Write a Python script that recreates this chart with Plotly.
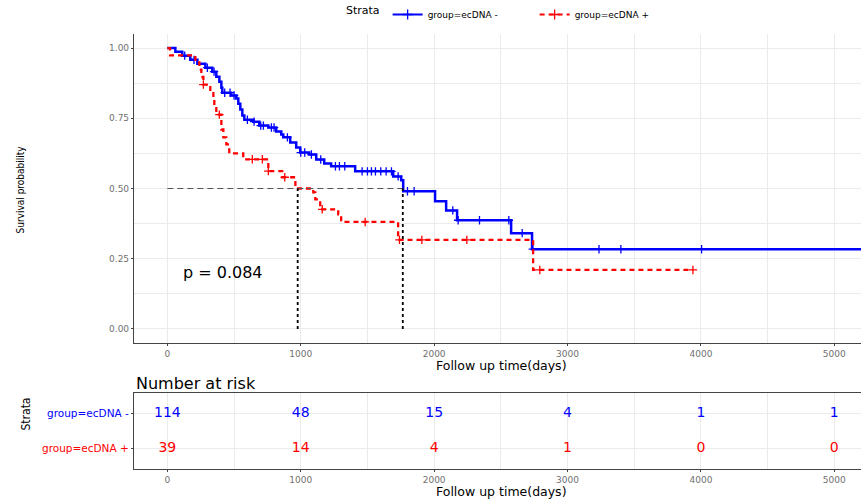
import plotly.graph_objects as go

# ---------------------------------------------------------------- data
# Kaplan-Meier steps: time of each drop (days) and survival after it
neg_time = [0, 60, 112, 172, 225, 285, 337, 367, 390, 405, 412, 479, 517, 532, 547,
            562, 577, 644, 689, 757, 816, 854, 869, 921, 966, 996, 1064, 1116, 1176,
            1228, 1408, 1693, 1753, 1768, 2007, 2090, 2172, 2577, 2734, 5300]
neg_surv = [1.0, 0.987, 0.973, 0.958, 0.944, 0.930, 0.916, 0.898, 0.880, 0.859, 0.841,
            0.831, 0.820, 0.802, 0.781, 0.760, 0.745, 0.738, 0.724, 0.717, 0.703, 0.692,
            0.682, 0.664, 0.646, 0.628, 0.621, 0.603, 0.589, 0.579, 0.561, 0.543, 0.529,
            0.490, 0.455, 0.422, 0.387, 0.341, 0.284, 0.284]
neg_censor = [130, 200, 300, 350, 430, 470, 500, 600, 650, 700, 720, 780, 800, 900,
              1000, 1030, 1080, 1150, 1260, 1290, 1330, 1460, 1500, 1530, 1560, 1600,
              1640, 1680, 1730, 1800, 1850, 2140, 2180, 2340, 2560, 2660, 2740, 3236,
              3400, 4005]

pos_time = [0, 20, 210, 240, 255, 270, 322, 345, 352, 367, 405, 420, 442, 464, 569,
            757, 861, 960, 1094, 1109, 1146, 1281, 1303, 1730, 2742, 3940]
pos_surv = [1.0, 0.974, 0.949, 0.923, 0.897, 0.870, 0.846, 0.817, 0.790, 0.763, 0.710,
            0.682, 0.657, 0.625, 0.604, 0.562, 0.540, 0.500, 0.486, 0.461, 0.426, 0.408,
            0.381, 0.317, 0.210, 0.210]
pos_censor = [270, 390, 637, 712, 757, 880, 1161, 1483, 1740, 1908, 2245, 2792, 3940]

median_times = [977, 1765]
p_label = "p = 0.084"

strata = ["group=ecDNA -", "group=ecDNA +"]
colors = ["#0000FF", "#FF0000"]
risk_times = [0, 1000, 2000, 3000, 4000, 5000]
risk_neg = [114, 48, 15, 4, 1, 1]
risk_pos = [39, 14, 4, 1, 0, 0]


def surv_at(times, surv, t):
    s = surv[0]
    for ti, si in zip(times, surv):
        if ti <= t:
            s = si
    return s


W, H = 861, 499
xdom = [134 / W, 1]
main_dom = [1 - 343 / H, 1 - 34 / H]
risk_dom = [1 - 469 / H, 1 - 393 / H]
xrange_ = [-250, 5200]
FONT = "DejaVu Sans, Verdana, sans-serif"
NARROW = "DejaVu Sans Condensed, Liberation Sans Narrow, sans-serif"

fig = go.Figure()

curves = [(neg_time, neg_surv, neg_censor, "solid", 2.5),
          (pos_time, pos_surv, pos_censor, "5px,4px", 2.3)]
for (tt, ss, cc, dash, w), name, col in zip(curves, strata, colors):
    fig.add_trace(go.Scatter(x=tt, y=ss, mode="lines", line_shape="hv",
                             line=dict(color=col, width=w, dash=dash),
                             showlegend=False, hoverinfo="skip"))
    fig.add_trace(go.Scatter(x=cc, y=[surv_at(tt, ss, c) for c in cc], mode="markers",
                             marker=dict(symbol="cross-thin", size=6,
                                         line=dict(color=col, width=1.3)),
                             showlegend=False))
    fig.add_trace(go.Scatter(x=[None], y=[None], mode="lines+markers", name=name,
                             line=dict(color=col, width=2, dash=dash),
                             marker=dict(symbol="cross-thin", size=7,
                                         line=dict(color=col, width=1.3))))

# median lines
fig.add_shape(type="line", x0=0, x1=median_times[1], y0=0.5, y1=0.5,
              xref="x", yref="y", line=dict(color="#555555", width=1.2, dash="6px,4px"))
for m in median_times:
    fig.add_shape(type="line", x0=m, x1=m, y0=0, y1=0.5, xref="x", yref="y",
                  line=dict(color="black", width=1.8, dash="3px,3px"))

fig.add_annotation(x=100, y=0.2, xref="x", yref="y", text=p_label, showarrow=False,
                   xanchor="left", font=dict(size=16, color="black"))

# risk table
for vals, yv, col in [(risk_neg, 1, colors[0]), (risk_pos, 0, colors[1])]:
    fig.add_trace(go.Scatter(x=risk_times, y=[yv] * len(risk_times), mode="text",
                             text=[str(v) for v in vals],
                             textfont=dict(size=14, color=col),
                             xaxis="x2", yaxis="y2", showlegend=False))

grid = "#EBEBEB"
tickf = dict(size=9, color="#707070")
axis_common = dict(showgrid=True, gridcolor=grid, gridwidth=1, zeroline=False,
                   showline=True, linecolor="#444444", linewidth=1.2,
                   ticks="outside", ticklen=2, tickcolor="#444444",
                   tickfont=tickf, automargin=False)

fig.update_layout(
    width=W, height=H,
    margin=dict(l=0, r=0, t=0, b=0),
    plot_bgcolor="white", paper_bgcolor="white",
    font=dict(family=FONT, color="black"),
    legend=dict(orientation="h", x=344 / W, y=1, xanchor="left", yanchor="top",
                title=dict(text="Strata", font=dict(size=11)),
                font=dict(size=9), itemwidth=30,
                entrywidth=102, entrywidthmode="pixels"),
    xaxis=dict(domain=xdom, range=xrange_, tick0=0, dtick=1000,
               minor=dict(showgrid=True, gridcolor=grid, dtick=500),
               **axis_common),
    yaxis=dict(domain=main_dom, range=[-0.05, 1.05], tickvals=[0, 0.25, 0.5, 0.75, 1],
               tickformat=".2f", minor=dict(showgrid=True, gridcolor=grid, dtick=0.125),
               **axis_common),
    xaxis2=dict(domain=xdom, range=xrange_, anchor="y2", tick0=0, dtick=1000,
                minor=dict(showgrid=True, gridcolor=grid, dtick=500), mirror=True,
                **axis_common),
    yaxis2=dict(domain=risk_dom, range=[-0.6, 1.6], anchor="x2", mirror=True,
                tickvals=[1, 0],
                ticktext=["<span style='color:%s'>%s</span>" % (colors[0], strata[0]),
                          "<span style='color:%s'>%s</span>" % (colors[1], strata[1])],
                **axis_common),
)
fig.layout.yaxis2.tickfont = dict(size=10.5)

# axis titles and table heading
for ypx in [365, 491]:
    fig.add_annotation(x=501 / W, y=1 - ypx / H, xref="paper", yref="paper",
                       text="Follow up time(days)", showarrow=False, yanchor="middle",
                       font=dict(size=12.5))
fig.add_annotation(x=13 / W, y=1 - 190 / H, xref="paper", yref="paper",
                   text="Survival probability", textangle=-90, showarrow=False,
                   font=dict(family=NARROW, size=10))
fig.add_annotation(x=16 / W, y=1 - 433 / H, xref="paper", yref="paper",
                   text="Strata", textangle=-90, showarrow=False,
                   font=dict(family=NARROW, size=12))
fig.add_annotation(x=134 / W, y=1 - 383 / H, xref="paper", yref="paper",
                   text="Number at risk", showarrow=False, xanchor="left",
                   yanchor="middle", font=dict(size=16))

fig.write_html("out.html", config={"displayModeBar": False},
               post_script="document.body.style.margin='0px';")
